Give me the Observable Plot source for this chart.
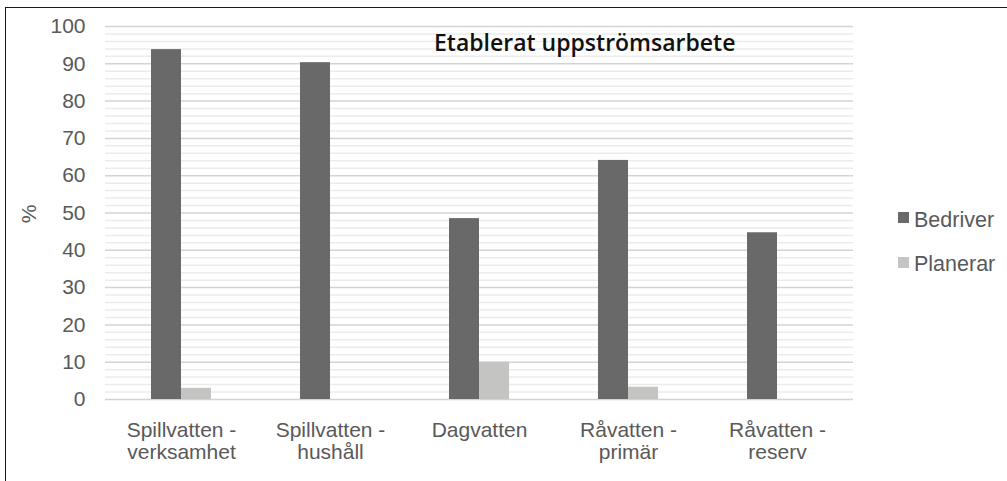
<!DOCTYPE html>
<html>
<head>
<meta charset="utf-8">
<script src="https://cdn.jsdelivr.net/npm/d3@7"></script>
<script src="https://cdn.jsdelivr.net/npm/@observablehq/plot@0.6"></script>
<style>
  html, body { margin: 0; padding: 0; background: #fff; }
  body { width: 1007px; height: 481px; overflow: hidden; position: relative; font-family: "Liberation Sans", Arial, sans-serif; }
  #frame { position: absolute; left: 5px; top: 7px; width: 1200px; height: 700px; border-top: 1.5px solid #1a1a1a; border-left: 1.5px solid #1a1a1a; pointer-events: none; }
  #chart { position: absolute; left: 0; top: 0; }
  #title { position: absolute; left: 434px; top: 31px; font-family: "Open Sans", "Noto Sans", sans-serif; font-weight: 600; font-size: 23px; line-height: 1; color: #111; white-space: nowrap; }
  #ylabel { position: absolute; left: 28px; top: 214px; transform: translate(-50%, -50%) rotate(-90deg); font-size: 21px; line-height: 1; color: #595959; }
  .item { position: absolute; left: 914px; font-size: 21.5px; line-height: 1; color: #595959; white-space: nowrap; }
  .sw { position: absolute; left: 898px; width: 11px; height: 11px; }
</style>
</head>
<body>
<div id="chart"></div>
<div id="title"></div>
<div id="ylabel"></div>
<div id="legend"></div>
<div id="frame"></div>
<script>
const title = "Etablerat uppströmsarbete";
const yAxisLabel = "%";
const categories = ["Spillvatten - verksamhet", "Spillvatten - hushåll", "Dagvatten", "Råvatten - primär", "Råvatten - reserv"];
const categoryLabels = ["Spillvatten -\nverksamhet", "Spillvatten -\nhushåll", "Dagvatten", "Råvatten -\nprimär", "Råvatten -\nreserv"];
const series = ["Bedriver", "Planerar"];
const seriesColors = ["#696969", "#c4c4c2"];
const bedriver = [93.8, 90.3, 48.5, 64.1, 44.7];
const planerar = [3.0, 0, 10.0, 3.3, 0];
const yTicks = [0, 10, 20, 30, 40, 50, 60, 70, 80, 90, 100];
const yMinor = [2, 4, 6, 8, 12, 14, 16, 18, 22, 24, 26, 28, 32, 34, 36, 38, 42, 44, 46, 48, 52, 54, 56, 58, 62, 64, 66, 68, 72, 74, 76, 78, 82, 84, 86, 88, 92, 94, 96, 98];

const rowsB = categories.map((c, i) => ({category: c, series: series[0], value: bedriver[i]}));
const rowsP = categories.map((c, i) => ({category: c, series: series[1], value: planerar[i]}));

const chart = Plot.plot({
  width: 1007,
  height: 481,
  marginLeft: 105,
  marginRight: 154,
  marginTop: 26,
  marginBottom: 82,
  style: {fontFamily: "'Liberation Sans', Arial, sans-serif", color: "#595959", background: "transparent"},
  x: {domain: categories, paddingInner: 0.6, paddingOuter: 0.3, label: null},
  y: {domain: [0, 100], label: null},
  marks: [
    Plot.ruleY(yMinor, {stroke: "#ebebeb", strokeWidth: 1.5}),
    Plot.ruleY(yTicks, {stroke: "#d3d3d3", strokeWidth: 1.5}),
    Plot.barY(rowsB, {x: "category", y: "value", fill: seriesColors[0], insetRight: 30}),
    Plot.barY(rowsP, {x: "category", y: "value", fill: seriesColors[1], insetLeft: 30}),
    Plot.axisY({ticks: yTicks, tickSize: 0, tickPadding: 20, fontSize: 21, label: null}),
    Plot.axisX({tickSize: 0, tickPadding: 22, fontSize: 21, lineHeight: 1.05,
      tickFormat: d => categoryLabels[categories.indexOf(d)], label: null})
  ]
});
document.getElementById("chart").appendChild(chart);
document.getElementById("title").textContent = title;
document.getElementById("ylabel").textContent = yAxisLabel;
const legend = document.getElementById("legend");
const legendTextTop = [210, 254];
const legendSwatchTop = [212, 257];
series.forEach((s, i) => {
  const sw = document.createElement("div");
  sw.className = "sw";
  sw.style.top = legendSwatchTop[i] + "px";
  sw.style.background = seriesColors[i];
  const t = document.createElement("div");
  t.className = "item";
  t.style.top = legendTextTop[i] + "px";
  t.textContent = s;
  legend.appendChild(sw);
  legend.appendChild(t);
});
</script>
</body>
</html>
